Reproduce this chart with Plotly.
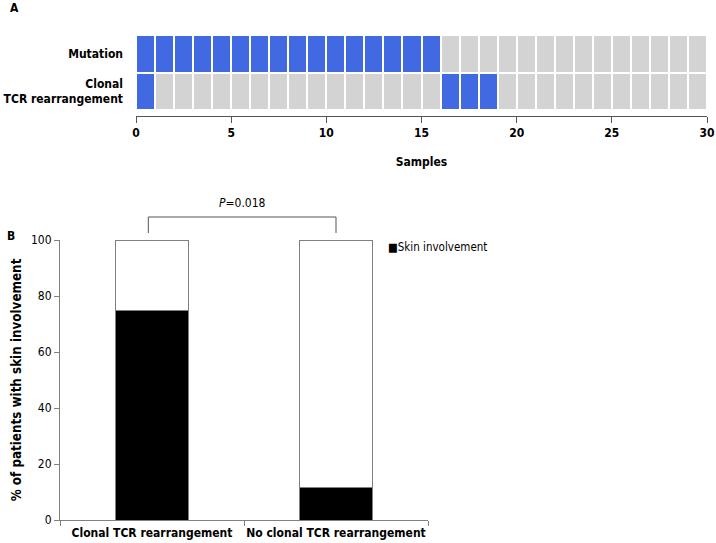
import plotly.graph_objects as go

# ---- Data ----
samples = list(range(1, 31))
row_labels = ["Clonal<br>TCR rearrangement", "Mutation"]
mutation = [1]*16 + [0]*14
tcr = [1] + [0]*15 + [1]*3 + [0]*11

groups = ["Clonal TCR rearrangement", "No clonal TCR rearrangement"]
skin_pct = [75, 11.5]
no_skin_pct = [100 - v for v in skin_pct]
x_ticks = [0, 5, 10, 15, 20, 25, 30]
y_ticks = [0, 20, 40, 60, 80, 100]
legend_label = "Skin involvement"

FONT = "DejaVu Sans Condensed, Noto Sans, sans-serif"
W, H = 716, 543

def px_x(p):
    return p / W

def px_y(p):
    return 1 - p / H

fig = go.Figure()

fig.add_trace(go.Heatmap(
    z=[tcr, mutation],
    x=[s - 0.5 for s in samples],
    y=[0, 1],
    colorscale=[[0, "#D3D3D3"], [1, "#4169E1"]],
    zmin=0, zmax=1,
    xgap=2, ygap=2,
    showscale=False,
    hoverinfo="skip",
    xaxis="x", yaxis="y",
))

fig.add_trace(go.Bar(
    x=groups, y=skin_pct, name=legend_label,
    marker=dict(color="black", line=dict(color="#808080", width=1)),
    width=0.4, xaxis="x2", yaxis="y2", showlegend=False,
))
fig.add_trace(go.Bar(
    x=groups, y=no_skin_pct, name="No skin involvement",
    marker=dict(color="white", line=dict(color="#808080", width=1)),
    width=0.4, xaxis="x2", yaxis="y2", showlegend=False,
))

fig.update_layout(
    width=W, height=H,
    margin=dict(l=0, r=0, t=0, b=0, autoexpand=False),
    paper_bgcolor="white", plot_bgcolor="white",
    font=dict(family=FONT, size=12, color="black"),
    barmode="stack",
    showlegend=False,
    xaxis=dict(
        domain=[px_x(136), px_x(707)], range=[0, 30],
        anchor="free", position=px_y(116), automargin=False,
        tickvals=x_ticks, ticks="outside", ticklen=6, tickcolor="#555",
        showline=True, linecolor="#555", linewidth=1,
        showgrid=False, zeroline=False, ticklabeloverflow="allow",
        tickfont=dict(size=12, weight="bold"),
        title=dict(text="Samples", font=dict(size=12, weight="bold"), standoff=18),
    ),
    yaxis=dict(
        domain=[px_y(110), px_y(35)], range=[-0.5, 1.5], automargin=False,
        tickvals=[0, 1], ticktext=row_labels,
        ticks="", ticklabelstandoff=12,
        showline=False, showgrid=False, zeroline=False,
        tickfont=dict(size=12, weight="bold"),
    ),
    xaxis2=dict(
        domain=[px_x(60), px_x(428)], anchor="y2", automargin=False,
        showline=True, linecolor="#808080", linewidth=1,
        ticks="outside", tickson="boundaries", ticklen=5, tickcolor="#808080",
        showgrid=False, tickangle=0, ticklabelstandoff=2,
        tickfont=dict(size=12, weight="bold"),
    ),
    yaxis2=dict(
        domain=[px_y(520), px_y(240)], anchor="x2", range=[0, 100], automargin=False,
        tickvals=y_ticks, ticks="outside", ticklen=5, tickcolor="#808080",
        showline=True, linecolor="#808080", linewidth=1,
        showgrid=False, zeroline=False,
        tickfont=dict(size=12),
        title=dict(text="% of patients with skin involvement", font=dict(size=13.3, weight="bold"), standoff=6),
    ),
)

# legend (small square marker + label, as in the reference)
fig.add_annotation(text="■" + legend_label, xref="paper", yref="paper",
                   x=px_x(386), y=px_y(247), xanchor="left", yanchor="middle",
                   showarrow=False, font=dict(size=11.5))

# bracket for p-value
fig.add_shape(type="line", xref="x2", yref="paper", x0=-0.02, x1=-0.02,
              y0=px_y(233), y1=px_y(217), line=dict(color="#555", width=1))
fig.add_shape(type="line", xref="x2", yref="paper", x0=1.0, x1=1.0,
              y0=px_y(233), y1=px_y(217), line=dict(color="#555", width=1))
fig.add_shape(type="line", xref="x2", yref="paper", x0=-0.02, x1=1.0,
              y0=px_y(217), y1=px_y(217), line=dict(color="#555", width=1))
fig.add_annotation(text="<i>P</i>=0.018", xref="x2", yref="paper",
                   x=0.49, y=px_y(203), showarrow=False, font=dict(size=12))

fig.add_annotation(text="<b>A</b>", xref="paper", yref="paper",
                   x=px_x(8), y=px_y(8), xanchor="left", yanchor="middle",
                   showarrow=False, font=dict(size=12))
fig.add_annotation(text="<b>B</b>", xref="paper", yref="paper",
                   x=px_x(5), y=px_y(236), xanchor="left", yanchor="middle",
                   showarrow=False, font=dict(size=12))

fig.write_html(
    "out.html",
    config={"displayModeBar": False},
    post_script="document.body.style.margin='0';document.body.style.overflow='hidden';",
)
